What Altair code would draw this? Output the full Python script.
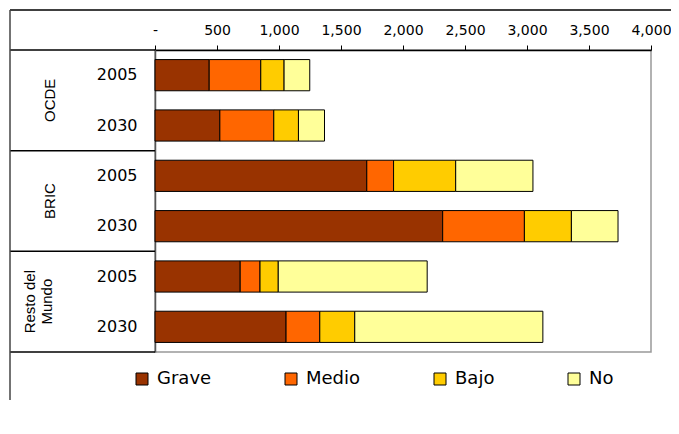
import altair as alt
import pandas as pd

# ---- data ----
groups = ["OCDE", "OCDE", "BRIC", "BRIC", "Resto del Mundo", "Resto del Mundo"]
years = ["2005", "2030", "2005", "2030", "2005", "2030"]
grave = [437, 523, 1708, 2320, 687, 1057]
medio = [416, 435, 216, 659, 160, 272]
bajo = [188, 199, 501, 379, 147, 282]
no = [207, 210, 623, 376, 1201, 1517]
categories = ["Grave", "Medio", "Bajo", "No"]
colors = ["#993300", "#FF6600", "#FFCC00", "#FFFF99"]
x_ticks = [0, 500, 1000, 1500, 2000, 2500, 3000, 3500, 4000]
group_names = ["OCDE", "BRIC", "Resto del\nMundo"]
group_centers = [1, 3, 5]
separators = [0, 2, 4, 6]

rows = []
series = [grave, medio, bajo, no]
for i, (g, y) in enumerate(zip(groups, years)):
    key = f"{g} {y}"
    for k, (cat, vals) in enumerate(zip(categories, series)):
        rows.append({"row": key, "cat": cat, "order": k, "value": vals[i]})
df = pd.DataFrame(rows)
row_order = [f"{g} {y}" for g, y in zip(groups, years)]

bars = alt.Chart(df).mark_bar(stroke="#000000", strokeWidth=1).encode(
    x=alt.X(
        "value:Q",
        stack="zero",
        scale=alt.Scale(domain=[0, 4000], nice=False),
        axis=alt.Axis(
            orient="top", values=x_ticks,
            labelExpr="datum.value == 0 ? '-' : format(datum.value, ',')",
            labelOverlap=False, labelFlush=False,
            grid=False, domainColor="black", domainWidth=1.5,
            tickColor="black", tickSize=5, labelPadding=8,
            labelFont="DejaVu Sans", labelFontSize=14, labelColor="black",
            title=None,
        ),
    ),
    y=alt.Y(
        "row:N", sort=row_order,
        scale=alt.Scale(paddingInner=0.38, paddingOuter=0.19),
        axis=alt.Axis(
            labelExpr="slice(datum.label, -4)", ticks=False,
            domainColor="#555555", domainWidth=1.5, labelPadding=18,
            labelFont="DejaVu Sans", labelFontSize=16, labelColor="black",
            title=None,
        ),
    ),
    color=alt.Color(
        "cat:N",
        scale=alt.Scale(domain=categories, range=colors),
        legend=alt.Legend(
            orient="none", legendX=-22, legendY=320, direction="horizontal",
            title=None, symbolType="square", symbolSize=144,
            symbolStrokeColor="black", symbolStrokeWidth=1,
            labelFont="DejaVu Sans", labelFontSize=18, labelColor="black",
            labelOffset=6, columnPadding=70, padding=0,
        ),
    ),
    order=alt.Order("order:Q"),
)

pos_scale = alt.Scale(domain=[0, 6], reverse=True, nice=False, zero=False)

seps = alt.Chart(pd.DataFrame({"pos": separators})).mark_rule(
    color="black", strokeWidth=1.5
).encode(
    y=alt.Y("pos:Q", scale=pos_scale, axis=None),
    x=alt.value(-145), x2=alt.value(0),
)

lab_df = pd.DataFrame({"name": group_names, "pos": group_centers})
text_style = dict(
    angle=270, font="Liberation Sans", fontSize=15, lineBreak="\n",
    baseline="middle", align="center", color="black", lineHeight=17,
)
labels_single = alt.Chart(lab_df).mark_text(**text_style).encode(
    y=alt.Y("pos:Q", scale=pos_scale, axis=None),
    x=alt.value(-105),
    text="name:N",
).transform_filter("indexof(datum.name, '\\n') < 0")
labels_multi = alt.Chart(lab_df).mark_text(**text_style).encode(
    y=alt.Y("pos:Q", scale=pos_scale, axis=None),
    x=alt.value(-125),
    text="name:N",
).transform_filter("indexof(datum.name, '\\n') >= 0")

one = pd.DataFrame({"a": [0]})
frame_top = alt.Chart(one).mark_rule(color="black", strokeWidth=1.5).encode(
    x=alt.value(-145), x2=alt.value(516), y=alt.value(-40)
)
frame_left = alt.Chart(one).mark_rule(color="#444444", strokeWidth=1.5).encode(
    x=alt.value(-145), y=alt.value(-40), y2=alt.value(350)
)

chart = alt.layer(
    bars, seps, labels_single, labels_multi, frame_top, frame_left
).resolve_scale(
    y="independent"
).properties(
    width=496, height=302, autosize="none",
    padding={"left": 147, "top": 42, "right": 20, "bottom": 70},
).configure_view(stroke="#999999", strokeWidth=1.5)

chart.save("out.html", embed_options={"renderer": "svg", "actions": False})
